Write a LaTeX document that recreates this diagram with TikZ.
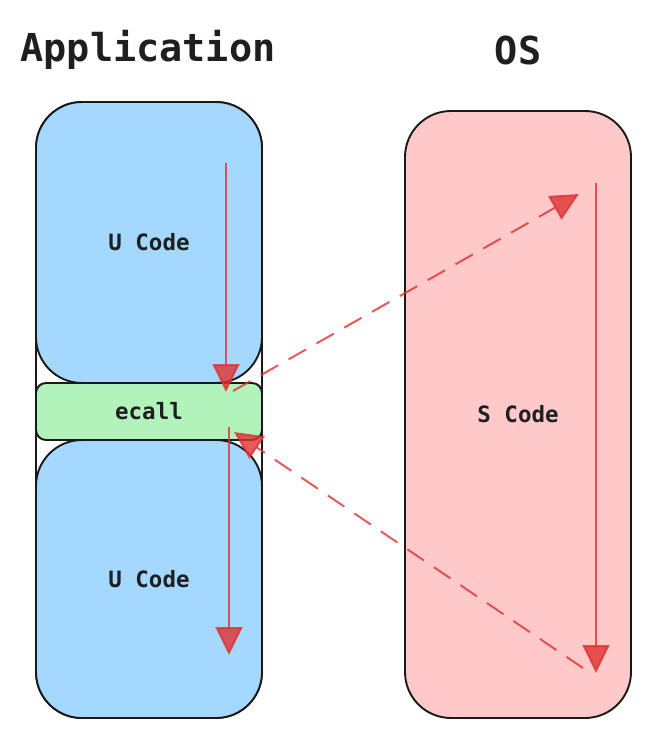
\documentclass[tikz,border=0pt]{standalone}
\usepackage{fontspec}
\setmonofont{DejaVu Sans Mono}
\usetikzlibrary{arrows.meta}
\definecolor{ublue}{HTML}{A5D8FF}
\definecolor{egreen}{HTML}{B2F2BB}
\definecolor{spink}{HTML}{FFC9C9}
\definecolor{ared}{HTML}{E03131}
\tikzset{
  box/.style={draw=black!90, line width=1.9pt, rounded corners=46pt, inner sep=0pt, minimum width=226pt},
  title/.style={font=\ttfamily\bfseries\fontsize{38.5}{42}\selectfont, text=black!88},
  label/.style={font=\ttfamily\bfseries\fontsize{22.5}{25}\selectfont, text=black!88},
  flow/.style={draw=ared, opacity=0.8, line width=2pt, -{Triangle[length=28pt,width=27pt,fill=ared]}},
  jump/.style={flow, dash pattern=on 20pt off 12pt}
}
\begin{document}
\begin{tikzpicture}[x=1pt,y=-1pt]
\useasboundingbox (0,0) rectangle (651,739);
\node[title] (tapp) at (148,50) {Application};
\node[title] (tos) at (518,50) {OS};
\node[box, fill=white, minimum height=616pt] (outer) at (149,410) {};
\node[box, fill=ublue, minimum height=281pt] (ucode1) at (149,242.5) {};
\node[box, fill=ublue, minimum height=278pt] (ucode2) at (149,579) {};
\node[box, fill=egreen, rounded corners=10pt, minimum height=57pt] (ecall) at (149,411.5) {};
\node[box, fill=spink, minimum height=607pt] (scode) at (518,414.5) {};
\node[label] at (ucode1.center) {U Code};
\node[label] at (ucode2.center) {U Code};
\node[label] at (ecall.center) {ecall};
\node[label] at (518,414) {S Code};
\coordinate (a1s) at (226,163);
\coordinate (a1e) at (226,392);
\coordinate (a2s) at (229,427);
\coordinate (a2e) at (229,655);
\coordinate (a3s) at (596,183);
\coordinate (a3e) at (596,673);
\coordinate (d1s) at (233,391);
\coordinate (d1e) at (579,194);
\coordinate (d2s) at (583,668);
\coordinate (d2e) at (234,432);
\draw[flow] (a1s) -- (a1e);
\draw[flow] (a2s) -- (a2e);
\draw[flow] (a3s) -- (a3e);
\draw[jump] (d1s) -- (d1e);
\draw[jump] (d2s) -- (d2e);
\end{tikzpicture}
\end{document}
